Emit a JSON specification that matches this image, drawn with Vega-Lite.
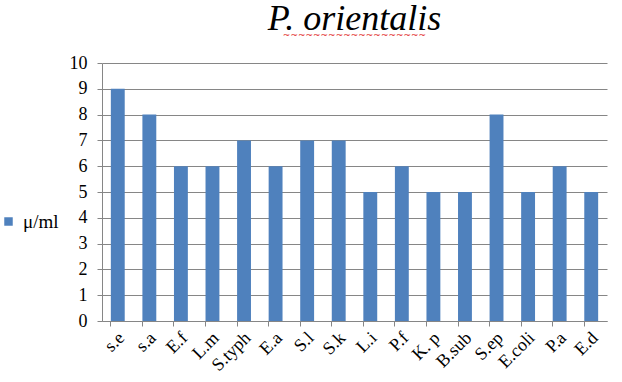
{
  "$schema": "https://vega.github.io/schema/vega-lite/v6.json",
  "width": 505,
  "height": 258,
  "autosize": "none",
  "padding": {"left": 102, "top": 63, "right": 15, "bottom": 61},
  "background": "white",
  "title": {
    "text": "P. orientalis",
    "subtitle": "            ~~~~~~~~~~~~~~~~~~~",
    "font": "Liberation Serif",
    "fontSize": 36,
    "fontStyle": "italic",
    "fontWeight": "normal",
    "color": "#000000",
    "subtitleFont": "DejaVu Sans",
    "subtitleFontSize": 9,
    "subtitleColor": "#E02020",
    "subtitlePadding": -7,
    "anchor": "middle",
    "offset": 13
  },
  "data": {
    "values": [
      {"organism": "s.e", "value": 9, "series": "μ/ml"},
      {"organism": "s.a", "value": 8, "series": "μ/ml"},
      {"organism": "E.f", "value": 6, "series": "μ/ml"},
      {"organism": "L.m", "value": 6, "series": "μ/ml"},
      {"organism": "S.typh", "value": 7, "series": "μ/ml"},
      {"organism": "E.a", "value": 6, "series": "μ/ml"},
      {"organism": "S.l", "value": 7, "series": "μ/ml"},
      {"organism": "S.k", "value": 7, "series": "μ/ml"},
      {"organism": "L.i", "value": 5, "series": "μ/ml"},
      {"organism": "P.f", "value": 6, "series": "μ/ml"},
      {"organism": "K. p", "value": 5, "series": "μ/ml"},
      {"organism": "B.sub", "value": 5, "series": "μ/ml"},
      {"organism": "S.ep", "value": 8, "series": "μ/ml"},
      {"organism": "E.coli", "value": 5, "series": "μ/ml"},
      {"organism": "P.a", "value": 6, "series": "μ/ml"},
      {"organism": "E.d", "value": 5, "series": "μ/ml"}
    ]
  },
  "mark": {"type": "bar"},
  "encoding": {
    "x": {
      "field": "organism",
      "type": "nominal",
      "sort": null,
      "scale": {"paddingInner": 0.56, "paddingOuter": 0.28},
      "axis": {
        "title": null,
        "labelAngle": 315,
        "labelAlign": "right",
        "labelBaseline": "middle",
        "labelFont": "Liberation Serif",
        "labelFontSize": 18,
        "labelColor": "#000000",
        "labelPadding": 9,
        "labelOffset": 4,
        "labelOverlap": false,
        "domainColor": "#868686",
        "tickColor": "#868686",
        "tickSize": 5,
        "bandPosition": 0,
        "grid": false
      }
    },
    "y": {
      "field": "value",
      "type": "quantitative",
      "scale": {"domain": [0, 10], "nice": false},
      "axis": {
        "title": null,
        "values": [0, 1, 2, 3, 4, 5, 6, 7, 8, 9, 10],
        "labelFont": "Liberation Serif",
        "labelFontSize": 18,
        "labelColor": "#000000",
        "labelPadding": 10,
        "domainColor": "#868686",
        "tickColor": "#868686",
        "tickSize": 5,
        "grid": true,
        "gridColor": "#868686",
        "gridWidth": 1
      }
    },
    "color": {
      "field": "series",
      "type": "nominal",
      "scale": {"range": ["#4F81BD"]},
      "legend": {
        "title": null,
        "orient": "none",
        "legendX": -103,
        "legendY": 149,
        "symbolType": "square",
        "symbolSize": 72,
        "symbolStrokeWidth": 0,
        "labelFont": "Liberation Serif",
        "labelFontSize": 19,
        "labelColor": "#000000",
        "labelOffset": 5
      }
    }
  },
  "config": {
    "view": {"stroke": null},
    "axis": {"domainWidth": 1, "tickWidth": 1}
  }
}
